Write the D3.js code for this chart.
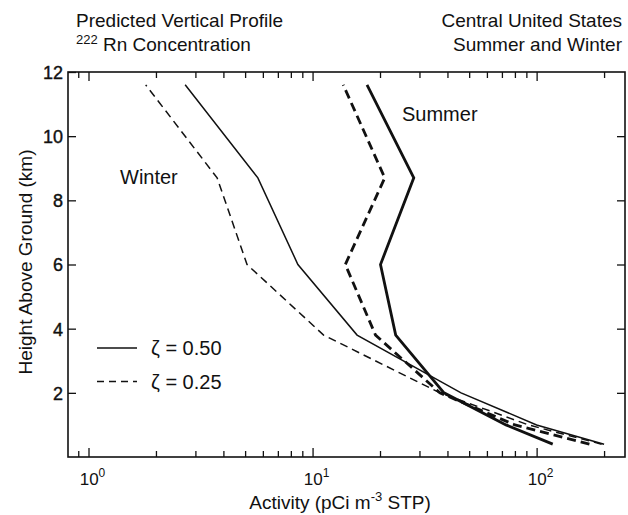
<!DOCTYPE html>
<html>
<head>
<meta charset="utf-8">
<script src="https://cdn.jsdelivr.net/npm/d3@7"></script>
<style>
  body { margin: 0; background: #fff; }
  svg text { font-family: "Liberation Sans", Arial, Helvetica, sans-serif; fill: #111; }
</style>
</head>
<body>
<svg width="628" height="515"></svg>
<script>
  // heights of the model levels (km)
  const heights = [0.4, 1.0, 2.0, 3.8, 6.0, 8.7, 11.6];
  // activity (pCi m-3 STP) at each level
  const winter50 = [200, 100, 46, 15.8, 8.6, 5.7, 2.7];
  const winter25 = [195, 92, 37, 11.2, 5.1, 3.75, 1.8];
  const summer50 = [118, 73, 38.6, 23.5, 20.1, 28.3, 17.5];
  const summer25 = [172, 80, 37, 19.1, 14.0, 21, 13.7];

  const xMinor = [0.9, 2, 3, 4, 5, 6, 7, 8, 9, 20, 30, 40, 50, 60, 70, 80, 90, 200];
  const xMajor = [1, 10, 100];
  const xMajorExp = ["0", "1", "2"];
  const yTicks = [2, 4, 6, 8, 10, 12];

  const svg = d3.select("svg"),
      width = +svg.attr("width"),
      height = +svg.attr("height");

  const pLeft = 68, pRight = 625, pTop = 72, pBottom = 457;

  const x = d3.scaleLog().domain([0.81, 248]).range([pLeft, pRight]);
  const y = d3.scaleLinear().domain([0, 12]).range([pBottom, pTop]);

  // frame
  svg.append("rect")
      .attr("x", pLeft).attr("y", pTop)
      .attr("width", pRight - pLeft).attr("height", pBottom - pTop)
      .attr("fill", "none").attr("stroke", "#111").attr("stroke-width", 1.6);

  // ticks, all pointing in
  function ticks(axis, tr) {
    const g = svg.append("g").attr("transform", tr).call(axis);
    g.select(".domain").remove();
    g.selectAll("line").attr("stroke", "#111").attr("stroke-width", 1.3);
    return g;
  }
  ticks(d3.axisBottom(x).tickValues(xMinor).tickSize(-6).tickFormat(""), `translate(0,${pBottom})`);
  ticks(d3.axisBottom(x).tickValues(xMajor).tickSize(-9).tickFormat(""), `translate(0,${pBottom})`);
  ticks(d3.axisTop(x).tickValues(xMinor).tickSize(-6).tickFormat(""), `translate(0,${pTop})`);
  ticks(d3.axisTop(x).tickValues(xMajor).tickSize(-9).tickFormat(""), `translate(0,${pTop})`);
  ticks(d3.axisRight(y).tickValues(yTicks.slice(0, 5)).tickSize(-8).tickFormat(""), `translate(${pRight},0)`);

  const yl = ticks(d3.axisLeft(y).tickValues(yTicks).tickSize(-8).tickPadding(5), `translate(${pLeft},0)`);
  yl.selectAll("text")
      .attr("font-size", 18)
      .attr("font-family", null)
      .attr("fill", "#111")
      .attr("stroke", "#111").attr("stroke-width", 0.4)
      .attr("dy", "0.36em");

  // x tick labels 10^n
  const xl = svg.append("g").selectAll("text")
      .data(xMajor)
      .join("text")
      .attr("x", d => x(d) + 4)
      .attr("y", 485)
      .attr("text-anchor", "middle")
      .attr("font-size", 17);
  xl.append("tspan").text("10");
  xl.append("tspan").attr("dy", -8).attr("font-size", 12).text((d, i) => xMajorExp[i]);

  // axis titles
  const xt = svg.append("text")
      .attr("x", 340).attr("y", 509)
      .attr("text-anchor", "middle")
      .attr("font-size", 19);
  xt.append("tspan").text("Activity (pCi m");
  xt.append("tspan").attr("dy", -8).attr("font-size", 13).text("-3");
  xt.append("tspan").attr("dy", 8).text(" STP)");

  svg.append("text")
      .attr("transform", "translate(32,262) rotate(-90)")
      .attr("text-anchor", "middle")
      .attr("font-size", 19)
      .text("Height Above Ground (km)");

  // titles
  svg.append("text").attr("x", 76).attr("y", 27).attr("font-size", 19).text("Predicted Vertical Profile");
  const t2 = svg.append("text").attr("x", 76).attr("y", 51).attr("font-size", 19);
  t2.append("tspan").attr("font-size", 13).attr("dy", -7).text("222");
  t2.append("tspan").attr("dy", 7).text(" Rn Concentration");
  svg.append("text").attr("x", 622).attr("y", 27).attr("text-anchor", "end").attr("font-size", 19).text("Central United States");
  svg.append("text").attr("x", 622).attr("y", 51).attr("text-anchor", "end").attr("font-size", 19).text("Summer and Winter");

  // profiles
  const line = d3.line()
      .x(d => x(d[0]))
      .y(d => y(d[1]));

  const series = [
    { vals: winter50, w: 1.5, dash: null },
    { vals: winter25, w: 1.5, dash: "8,5" },
    { vals: summer50, w: 2.8, dash: null },
    { vals: summer25, w: 2.8, dash: "9,5" }
  ];

  svg.append("g")
      .selectAll("path")
      .data(series)
      .join("path")
      .attr("d", s => line(s.vals.map((v, i) => [v, heights[i]])))
      .attr("fill", "none")
      .attr("stroke", "#111")
      .attr("stroke-width", s => s.w)
      .attr("stroke-dasharray", s => s.dash);

  // labels in the plot
  svg.append("text").attr("x", 120).attr("y", 184).attr("font-size", 20).text("Winter");
  svg.append("text").attr("x", 402).attr("y", 121).attr("font-size", 20).text("Summer");

  // legend
  const legend = [
    { label: "\u03B6 = 0.50", dash: null, h: 3.4 },
    { label: "\u03B6 = 0.25", dash: "7,5", h: 2.35 }
  ];
  const lg = svg.append("g").selectAll("g").data(legend).join("g");
  lg.append("line")
      .attr("x1", 97).attr("x2", 137)
      .attr("y1", d => y(d.h)).attr("y2", d => y(d.h))
      .attr("stroke", "#111").attr("stroke-width", 1.5)
      .attr("stroke-dasharray", d => d.dash);
  lg.append("text")
      .attr("x", 151).attr("y", d => y(d.h) + 7)
      .attr("font-size", 20)
      .text(d => d.label);
</script>
</body>
</html>
